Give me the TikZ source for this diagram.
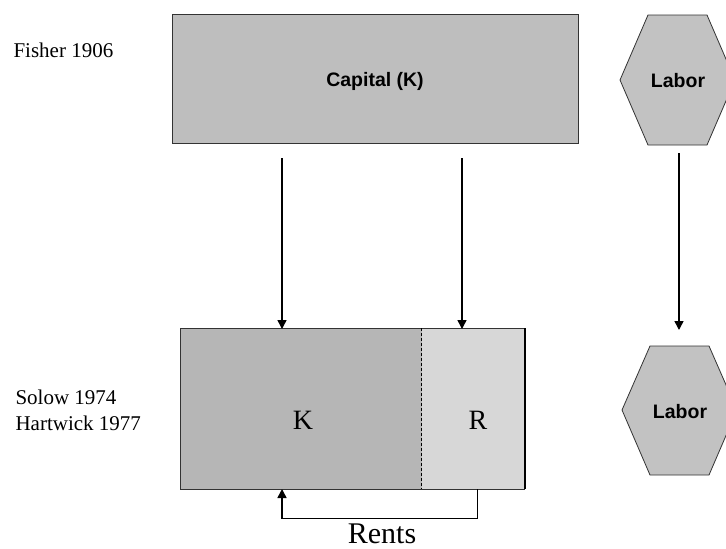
\documentclass[tikz,border=0pt]{standalone}
\usepackage{fontspec}
\setmainfont{Liberation Serif}
\setsansfont{Liberation Sans}
\usetikzlibrary{arrows.meta}
\definecolor{capgray}{HTML}{BEBEBE}
\definecolor{kgray}{HTML}{B6B6B6}
\definecolor{rgray}{HTML}{D7D7D7}
\definecolor{hexgray}{HTML}{C2C2C2}
\tikzset{
  x=1pt, y=-1pt,
  box/.style={draw=black!80, line width=0.8pt},
  flow/.style={line width=1.5pt, -{Triangle[width=9pt,length=9pt]}},
  serif/.style={font=\fontsize{21}{26}\selectfont},
  bigserif/.style={font=\fontsize{28}{32}\selectfont},
  boldsans/.style={font=\sffamily\bfseries\fontsize{19.5}{22}\selectfont},
}
\begin{document}
\begin{tikzpicture}
\clip (0,0) rectangle (726,549);
\fill[white] (0,0) rectangle (726,549);
% Capital box
\fill[capgray] (172,14) rectangle (578,143);
\draw[box] (172,143) -- (172,14) -- (578,14) -- (578,143) -- cycle;
\node[boldsans] (cap) at (375,81) {Capital (K)};
% Labor hexagon top
\fill[hexgray, draw=black!80, line width=0.8pt] (648,15) -- (707,15) -- (735,80) -- (707,145) -- (648,145) -- (620,80) -- cycle;
\node[boldsans] (lab1) at (678,81) {Labor};
% Labor hexagon bottom
\fill[hexgray, draw=black!80, line width=0.8pt] (650,346) -- (709,346) -- (737,410) -- (709,475) -- (650,475) -- (622,410) -- cycle;
\node[boldsans] (lab2) at (680,412) {Labor};
% Lower boxes
\fill[kgray] (180,328) rectangle (422,489);
\fill[rgray] (422,328) rectangle (525,489);
\draw[box] (422,328) -- (180,328) -- (180,489) -- (422,489);
\draw[box] (422,328) -- (525,328);
\draw[box] (422,489) -- (525,489);
\draw[line width=1.6pt] (525,328) -- (525,489);
\draw[line width=1pt, dash pattern=on 3pt off 2pt] (421,328) -- (421,489);
\node[bigserif] (K) at (303,420) {K};
\node[bigserif] (R) at (478,420) {R};
% coordinates
\coordinate (c1) at (282,158);
\coordinate (c2) at (462,158);
\coordinate (kt) at (282,329);
\coordinate (rt) at (462,329);
\coordinate (l1) at (679,153);
\coordinate (l2) at (679,330);
\coordinate (rb) at (477,489);
\coordinate (kb) at (282,489);
\draw[flow] (c1) -- (kt);
\draw[flow] (c2) -- (rt);
\draw[flow] (l1) -- (l2);
\draw[line width=1pt] (rb) -- (477,518) -- (282.5,518);
\draw[flow] (282,518.5) -- (kb);
% texts
\node[serif, anchor=west] (fisher) at (10,50) {Fisher 1906};
\node[serif, anchor=west, align=left] (solow) at (12,410) {Solow 1974\\Hartwick 1977};
\node[font=\fontsize{30}{34}\selectfont] (rents) at (382,534) {Rents};
\end{tikzpicture}
\end{document}
